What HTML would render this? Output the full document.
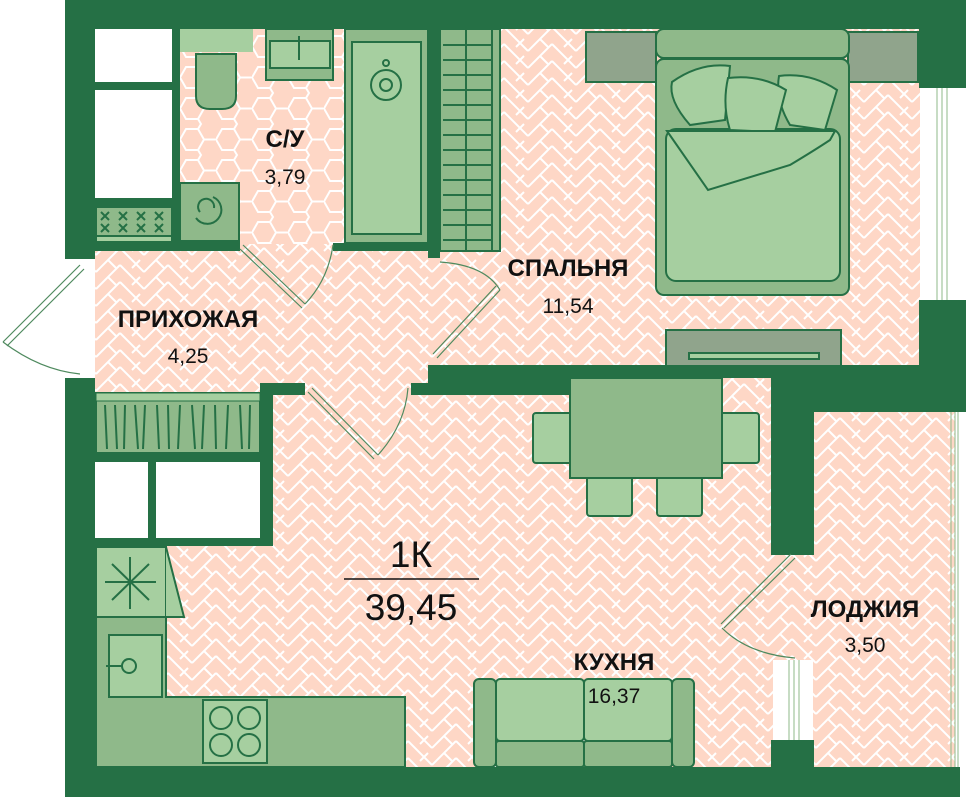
<!DOCTYPE html>
<html><head><meta charset="utf-8"><style>
html,body{margin:0;padding:0;background:#fff;}
svg{display:block;}
text{font-family:"Liberation Sans",sans-serif;fill:#111;}
.b{font-weight:bold;font-size:24px;}
.n{font-size:21px;}
</style></head><body>
<svg width="966" height="797" viewBox="0 0 966 797" xmlns="http://www.w3.org/2000/svg">
<defs>
<pattern id="hb" patternUnits="userSpaceOnUse" width="48" height="34">
<rect width="48" height="34" fill="#fed7c6"/>
<g stroke="#fff" stroke-width="2" fill="none">
<path d="M0,0 L24,-24 M0,17 L24,-7 M0,34 L24,10 M0,51 L24,27"/>
<path d="M24,-24 L48,0 M24,-7 L48,17 M24,10 L48,34 M24,27 L48,51"/>
<path d="M12,5 L20,13 M36,13 L44,5 M12,22 L20,30 M36,30 L44,22"/>
</g>
</pattern>
<pattern id="hex" patternUnits="userSpaceOnUse" width="36" height="31">
<rect width="36" height="31" fill="#fed7c6"/>
<path d="M0,15.5 L6,5 L18,5 L24,15.5 L18,26 L6,26 Z M24,15.5 L36,15.5 M18,5 L24,-5 M18,26 L24,36" stroke="#fff" stroke-width="2" fill="none"/>
</pattern>
</defs>

<!-- floors -->
<rect x="95" y="29" width="860" height="739" fill="url(#hb)"/>
<rect x="180" y="29" width="165" height="215" fill="url(#hex)"/>

<!-- walls -->
<g fill="#257045">
<rect x="65" y="0" width="901" height="29"/>
<rect x="919" y="0" width="47" height="88"/>
<rect x="919" y="300" width="47" height="70"/>
<rect x="65" y="0" width="30" height="259"/>
<rect x="65" y="378" width="30" height="419"/>
<rect x="65" y="767" width="895" height="30"/>
<rect x="172" y="29" width="8" height="222"/>
<rect x="95" y="82" width="77" height="8"/>
<rect x="95" y="198" width="77" height="9"/>
<rect x="95" y="241" width="145" height="10"/>
<rect x="333" y="243" width="107" height="8"/>
<rect x="428" y="29" width="12" height="229"/>
<rect x="428" y="365" width="538" height="13"/>
<rect x="411" y="383" width="159" height="12"/>
<rect x="428" y="378" width="142" height="8"/>
<rect x="814" y="365" width="152" height="47"/>
<rect x="771" y="365" width="43" height="190"/>
<rect x="771" y="740" width="43" height="30"/>
<rect x="260" y="383" width="45" height="12"/>
<rect x="260" y="383" width="13" height="163"/>
<rect x="95" y="538" width="178" height="8"/>
<rect x="95" y="453" width="178" height="9"/>
<rect x="148" y="462" width="8" height="76"/>
</g>

<!-- white closets -->
<g fill="#fff">
<rect x="95" y="29" width="77" height="53"/>
<rect x="95" y="90" width="77" height="108"/>
<rect x="95" y="462" width="53" height="76"/>
<rect x="156" y="462" width="104" height="76"/>
<rect x="920" y="88" width="46" height="212"/>
<rect x="773" y="660" width="40" height="80"/>
<rect x="955" y="412" width="11" height="355"/>
</g>
<g stroke="#8fb98a" fill="none" stroke-width="1">
<path d="M937,88 V300 M942,88 V300 M947,88 V300"/>
<path d="M789,660 V740 M794,660 V740 M799,660 V740"/>
<path d="M951,412 V767 M955,412 V767 M958,412 V767"/>
</g>

<!-- bathroom fixtures -->
<g stroke="#257045" stroke-width="2">
<rect x="180" y="29" width="73" height="23" fill="#a6cfa0" stroke="none"/>
<path d="M196,54 H236 V96 Q236,109 222,109 H210 Q196,109 196,96 Z" fill="#8fb98a"/>
<rect x="266" y="29" width="67" height="51" fill="#8fb98a"/>
<rect x="270" y="41" width="60" height="27" fill="#a6cfa0"/>
<line x1="299" y1="36" x2="299" y2="60"/>
<rect x="345" y="29" width="83" height="214" fill="#8fb98a"/>
<rect x="352" y="42" width="69" height="192" fill="#a6cfa0"/>
<circle cx="386" cy="85" r="15" fill="none"/>
<circle cx="386" cy="85" r="6" fill="none"/>
<circle cx="386" cy="63" r="3" fill="none"/>
<rect x="180" y="183" width="59" height="58" fill="#8fb98a"/>
<path d="M213,197 A14,14 0 1 1 196,218 M200,212 A8,8 0 1 1 214,208" fill="none"/>
<rect x="96" y="207" width="76" height="35" fill="#8fb98a"/>
<rect x="96" y="236" width="76" height="6" fill="#a6cfa0"/>
<rect x="440" y="29" width="60" height="222" fill="#8fb98a"/>
<line x1="466" y1="29" x2="466" y2="251"/>
<line x1="492" y1="29" x2="492" y2="251"/>
</g>
<g stroke="#257045" stroke-width="2">
<path d="M443,45 H492 M443,60 H492 M443,75 H492 M443,90 H492 M443,105 H492 M443,120 H492 M443,135 H492 M443,150 H492 M443,165 H492 M443,180 H492 M443,195 H492 M443,210 H492 M443,225 H492 M443,240 H492"/>
<path d="M101,212 l8,8 m0,-8 l-8,8 M119,212 l8,8 m0,-8 l-8,8 M137,212 l8,8 m0,-8 l-8,8 M155,212 l8,8 m0,-8 l-8,8 M101,224 l8,8 m0,-8 l-8,8 M119,224 l8,8 m0,-8 l-8,8 M137,224 l8,8 m0,-8 l-8,8 M155,224 l8,8 m0,-8 l-8,8"/>
</g>

<!-- hallway cabinet -->
<rect x="96" y="393" width="164" height="60" fill="#8fb98a" stroke="#257045" stroke-width="2"/>
<rect x="96" y="393" width="164" height="8" fill="#a6cfa0" stroke="#257045" stroke-width="1"/>
<g stroke="#257045" stroke-width="2">
<path d="M105,405 l2,44 M115,405 l2,44 M125,405 l-1,44 M135,405 l3,44 M145,405 l-2,44 M157,405 l2,44 M168,405 l1,44 M180,405 l-2,44 M192,405 l3,44 M204,405 l-2,44 M215,405 l1,44 M228,405 l-2,44 M240,405 l2,44 M250,405 l-1,44"/>
</g>

<!-- kitchen -->
<g stroke="#257045" stroke-width="2">
<path d="M96,617 H166 V697 H405 V767 H96 Z" fill="#8fb98a"/>
<rect x="96" y="547" width="70" height="70" fill="#a6cfa0"/>
<path d="M166,547 L184,617 H166" fill="#a6cfa0"/>
<path d="M130,557 V609 M105,582 H156 M112,564 L149,600 M149,564 L112,600"/>
<rect x="109" y="635" width="53" height="62" fill="#a6cfa0"/>
<circle cx="129" cy="666" r="7" fill="none"/>
<line x1="106" y1="666" x2="122" y2="666"/>
<rect x="203" y="700" width="64" height="63" fill="#a6cfa0"/>
<circle cx="221" cy="718" r="11" fill="none"/><circle cx="249" cy="718" r="11" fill="none"/>
<circle cx="221" cy="745" r="11" fill="none"/><circle cx="249" cy="745" r="11" fill="none"/>
</g>

<!-- bedroom furniture -->
<g stroke="#257045" stroke-width="2">
<rect x="586" y="32" width="70" height="50" fill="#90a48c"/>
<rect x="848" y="32" width="70" height="50" fill="#90a48c"/>
<rect x="656" y="29" width="193" height="29" rx="8" fill="#8fb98a"/>
<rect x="656" y="59" width="193" height="236" rx="8" fill="#8fb98a"/>
<rect x="666" y="129" width="174" height="152" rx="10" fill="#a6cfa0"/>
<path d="M672,82 Q700,62 730,66 L725,120 L690,125 Q668,100 672,82 Z" fill="#a6cfa0"/>
<path d="M779,76 Q810,72 837,90 L825,130 L790,125 Q775,100 779,76 Z" fill="#a6cfa0"/>
<path d="M728,78 Q760,74 786,90 L775,132 L730,130 Q722,105 728,78 Z" fill="#a6cfa0"/>
<path d="M667,131 L708,190 L790,165 Q815,150 830,140 L835,131 Z" fill="#a6cfa0"/>
<rect x="666" y="330" width="175" height="36" fill="#90a48c"/>
<rect x="689" y="353" width="130" height="6" fill="#a6cfa0"/>
</g>

<!-- dining -->
<g stroke="#257045" stroke-width="2">
<rect x="533" y="413" width="40" height="50" rx="3" fill="#a6cfa0"/>
<rect x="719" y="413" width="40" height="50" rx="3" fill="#a6cfa0"/>
<rect x="587" y="476" width="45" height="40" rx="3" fill="#a6cfa0"/>
<rect x="657" y="476" width="45" height="40" rx="3" fill="#a6cfa0"/>
<rect x="570" y="378" width="152" height="100" fill="#8fb98a"/>
</g>

<!-- sofa -->
<g stroke="#257045" stroke-width="2">
<rect x="474" y="679" width="22" height="88" rx="5" fill="#8fb98a"/>
<rect x="672" y="679" width="22" height="88" rx="5" fill="#8fb98a"/>
<rect x="496" y="679" width="88" height="62" rx="4" fill="#a6cfa0"/>
<rect x="584" y="679" width="88" height="62" rx="4" fill="#a6cfa0"/>
<rect x="496" y="741" width="88" height="26" rx="3" fill="#8fb98a"/>
<rect x="584" y="741" width="88" height="26" rx="3" fill="#8fb98a"/>
</g>

<!-- doors -->
<g stroke="#4f8a5f" stroke-width="1.2" fill="none">
<path d="M80,265 L3,342 M84,269 L7,346" />
<path d="M3,342 Q40,370 80,374"/>
<path d="M243,245 L305,304 M240,249 L302,308"/>
<path d="M305,304 Q328,280 333,245"/>
<path d="M500,290 L437,358 M496,286 L433,354"/>
<path d="M440,262 Q485,265 500,290"/>
<path d="M312,388 L378,455 M308,392 L374,459"/>
<path d="M378,455 Q405,425 408,388"/>
<path d="M795,558 L724,628 M791,554 L721,624"/>
<path d="M722,628 Q748,654 795,658"/>
</g>

<!-- labels -->
<text class="b" x="285" y="147" text-anchor="middle">С/У</text>
<text class="n" x="285" y="184" text-anchor="middle">3,79</text>
<text class="b" x="188" y="327" text-anchor="middle">ПРИХОЖАЯ</text>
<text class="n" x="188" y="363" text-anchor="middle">4,25</text>
<text class="b" x="568" y="276" text-anchor="middle">СПАЛЬНЯ</text>
<text class="n" x="568" y="313" text-anchor="middle">11,54</text>
<text x="411" y="567" text-anchor="middle" style="font-size:37px">1К</text>
<line x1="344" y1="579" x2="479" y2="579" stroke="#111" stroke-width="1.5"/>
<text x="411" y="620" text-anchor="middle" style="font-size:37px">39,45</text>
<text class="b" x="614" y="670" text-anchor="middle">КУХНЯ</text>
<text class="n" x="614" y="703" text-anchor="middle">16,37</text>
<text class="b" x="865" y="617" text-anchor="middle">ЛОДЖИЯ</text>
<text class="n" x="865" y="652" text-anchor="middle">3,50</text>
</svg>
</body></html>
